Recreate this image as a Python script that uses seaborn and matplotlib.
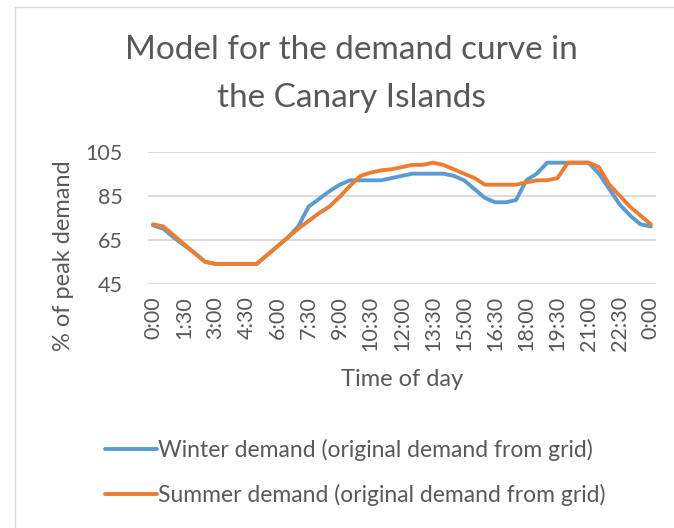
import matplotlib
matplotlib.use('Agg')
import matplotlib.pyplot as plt
import matplotlib.patches as mpatches
import seaborn as sns
import pandas as pd

# half-hour steps from 0:00 to 0:00 next day (49 points)
times = [f'{h}:{m:02d}' for h in range(24) for m in (0, 30)] + ['0:00']

winter = [71.5, 70, 66, 62.5, 59, 55, 54, 54, 54, 54,
          54, 58, 62, 66, 71, 80, 83.5, 87, 90, 92,
          92, 92, 92, 93, 94, 95, 95, 95, 95, 94,
          92, 88, 84, 82, 82, 83, 92, 95, 100, 100,
          100, 100, 100, 95, 88, 81, 76, 72, 71]

summer = [72, 71, 67, 63, 59, 55, 54, 54, 54, 54,
          54, 58, 62, 66, 70, 73.5, 77, 80, 84.5, 89.5,
          94, 95.5, 96.5, 97, 98, 99, 99, 100, 99, 97,
          95, 93, 90, 90, 90, 90, 91, 92, 92, 93,
          100, 100, 100, 98, 90, 85, 80, 76, 72]

series_names = ['Winter demand (original demand from grid)',
                'Summer demand (original demand from grid)']
colors = ['#5B9BD5', '#ED7D31']
y_ticks = [45, 65, 85, 105]

df = pd.DataFrame({'pos': range(len(times)), 'time': times,
                   'winter': winter, 'summer': summer})

sns.set_theme(style='white')
plt.rcParams['font.family'] = ['Lato', 'DejaVu Sans']
text_color = '#595959'

fig = plt.figure(figsize=(6.74, 5.28), dpi=100)
ax = fig.add_axes([0.2193, 0.4627, 0.754, 0.25])

sns.lineplot(data=df, x='pos', y='winter', color=colors[0], linewidth=2.8,
             label=series_names[0], ax=ax, legend=False)
sns.lineplot(data=df, x='pos', y='summer', color=colors[1], linewidth=2.8,
             label=series_names[1], ax=ax, legend=False)

ax.set_xlim(-0.5, len(times) - 0.5)
ax.set_ylim(45, 105)
ax.set_yticks(y_ticks)
ax.set_xticks(df['pos'][::3])
ax.set_xticklabels(df['time'][::3], rotation=90, va='top', ha='center')
ax.tick_params(axis='both', length=0, labelsize=15.5, labelcolor=text_color)
ax.tick_params(axis='x', pad=9)
ax.tick_params(axis='y', pad=18)
for s in ax.spines.values():
    s.set_visible(False)
ax.grid(axis='y', color='#D9D9D9', linewidth=1.3)
ax.set_axisbelow(True)

ax.set_xlabel('Time of day', fontsize=17, color=text_color, va='center')
ax.xaxis.set_label_coords(0.5, -0.727)
ax.set_ylabel('% of peak demand', fontsize=17, color=text_color, va='center')
ax.yaxis.set_label_coords(-0.165, 0.212)

fig.text(0.521, 0.905, 'Model for the demand curve in', ha='center', va='center',
         fontsize=24, color=text_color)
fig.text(0.521, 0.815, 'the Canary Islands', ha='center', va='center',
         fontsize=24, color=text_color)

handles, labels = ax.get_legend_handles_labels()
fig.legend(handles, labels, loc='center left', bbox_to_anchor=(0.156, 0.105),
           frameon=False, borderpad=0, borderaxespad=0, handlelength=2.26,
           handletextpad=0.05, labelspacing=0.97, fontsize=16.5, labelcolor=text_color)

# chart area border (cropped at right/bottom)
fig.patches.append(mpatches.Rectangle((15 / 674, -0.1), 1.0, 1.1 - 7 / 528,
                                      transform=fig.transFigure, fill=False,
                                      edgecolor='#D9D9D9', linewidth=1))

fig.savefig('out.png', dpi=100)
